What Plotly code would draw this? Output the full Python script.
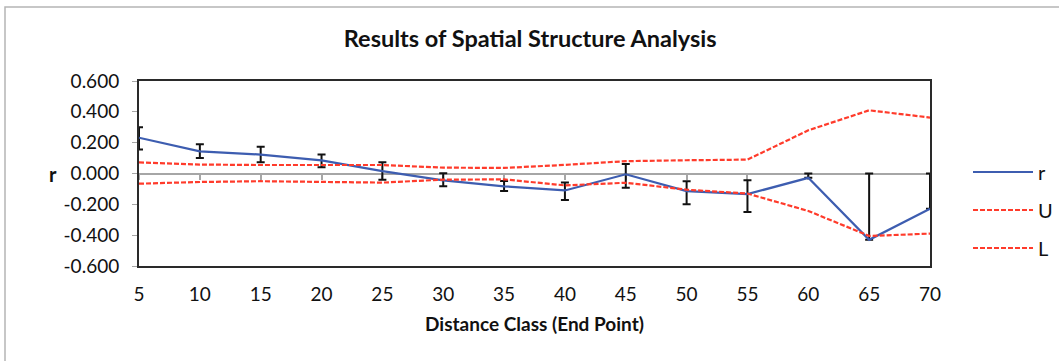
import plotly.graph_objects as go

# ---- data ----
distance = [5, 10, 15, 20, 25, 30, 35, 40, 45, 50, 55, 60, 65, 70]
r_vals = [0.232, 0.144, 0.123, 0.085, 0.015, -0.045, -0.083, -0.110, -0.005, -0.114, -0.134, -0.028, -0.430, -0.228]
r_err_hi = [0.300, 0.190, 0.174, 0.123, 0.073, 0.002, -0.049, -0.058, 0.062, -0.050, -0.043, 0.000, 0.000, 0.000]
r_err_lo = [0.155, 0.100, 0.073, 0.040, -0.040, -0.083, -0.114, -0.172, -0.092, -0.200, -0.250, -0.028, -0.430, -0.228]
U_vals = [0.072, 0.058, 0.055, 0.055, 0.055, 0.038, 0.036, 0.056, 0.080, 0.086, 0.090, 0.280, 0.410, 0.363]
L_vals = [-0.066, -0.055, -0.050, -0.055, -0.059, -0.040, -0.038, -0.077, -0.060, -0.105, -0.130, -0.243, -0.405, -0.390]
y_ticks = [-0.6, -0.4, -0.2, 0.0, 0.2, 0.4, 0.6]
y_tick_text = ["-0.600", "-0.400", "-0.200", "0.000", "0.200", "0.400", "0.600"]

FONT = "Lato, 'Open Sans', sans-serif"
BLUE = "#3D5DB0"
RED = "#FF3B2B"

W, H = 1059, 361
ML, MR, MT, MB = 139, 129, 81, 95
PW, PH = W - ML - MR, H - MT - MB

def px(x):
    return (x - ML) / PW

def py(y):
    return (H - MB - y) / PH

err_plus = [h - v for h, v in zip(r_err_hi, r_vals)]
err_minus = [v - l for v, l in zip(r_vals, r_err_lo)]

fig = go.Figure()
fig.add_trace(go.Scatter(
    x=distance, y=r_vals, name="r", mode="lines", cliponaxis=False,
    line=dict(color=BLUE, width=2.2),
    error_y=dict(type="data", symmetric=False, array=err_plus, arrayminus=err_minus,
                 color="#111111", thickness=2, width=4),
    legend="legend",
))
fig.add_trace(go.Scatter(
    x=distance, y=U_vals, name="U", mode="lines",
    line=dict(color=RED, width=2.2, dash="5px,2px"),
    legend="legend2",
))
fig.add_trace(go.Scatter(
    x=distance, y=L_vals, name="L", mode="lines",
    line=dict(color=RED, width=2.2, dash="5px,2px"),
    legend="legend3", xaxis="x2",
))

legend_common = dict(font=dict(family=FONT, size=20, color="#111"), bgcolor="rgba(0,0,0,0)",
                     xanchor="left", yanchor="middle", itemwidth=60)
lx = px(968)
fig.update_layout(
    width=W, height=H,
    margin=dict(l=ML, r=MR, t=MT, b=MB, pad=0, autoexpand=False),
    paper_bgcolor="white", plot_bgcolor="white",
    font=dict(family=FONT, size=19, color="#111"),
    title=dict(text="<b>Results of Spatial Structure Analysis</b>", x=px(535), xanchor="center",
               y=1 - 39 / H, yanchor="middle", font=dict(family=FONT, size=23.5, color="#111")),
    xaxis=dict(range=[5, 70], tickvals=distance, ticktext=[str(d) for d in distance],
               showgrid=False, zeroline=False, showline=True, mirror=True,
               linecolor="#2a2a2a", linewidth=2, ticks="", ticklabelstandoff=10,
               tickfont=dict(family=FONT, size=19, color="#111"),
               title=dict(text="<b>Distance Class (End Point)</b>", standoff=14,
                          font=dict(family=FONT, size=19, color="#111"))),
    xaxis2=dict(range=[5, 70], overlaying="x", anchor="free", position=0.5, side="bottom",
                tickvals=distance, showticklabels=False, showgrid=False, zeroline=False,
                showline=True, linecolor="#a6a6a6", linewidth=1.5,
                ticks="outside", ticklen=6, tickwidth=1.5, tickcolor="#a6a6a6",
                layer="below traces"),
    yaxis=dict(range=[-0.6, 0.6], tickvals=y_ticks, ticktext=y_tick_text,
               showgrid=False, zeroline=False, showline=True, mirror=True,
               linecolor="#2a2a2a", linewidth=2, ticks="outside", ticklen=5,
               tickcolor="#a6a6a6", ticklabelstandoff=9,
               tickfont=dict(family=FONT, size=19, color="#111")),
    legend=dict(x=lx, y=py(172), **legend_common),
    legend2=dict(x=lx, y=py(210), **legend_common),
    legend3=dict(x=lx, y=py(248), **legend_common),
    annotations=[dict(text="<b>r</b>", x=px(53), y=0, xref="paper", yref="y",
                      showarrow=False, xanchor="center", yanchor="middle",
                      font=dict(family=FONT, size=20, color="#111"))],
    shapes=[dict(type="rect", xref="paper", yref="paper",
                 x0=px(5), x1=px(1075), y0=py(375), y1=py(7),
                 line=dict(color="#b5b5b5", width=1.5), fillcolor="rgba(0,0,0,0)", layer="below")],
    showlegend=True,
)

fig.write_html("out.html")
